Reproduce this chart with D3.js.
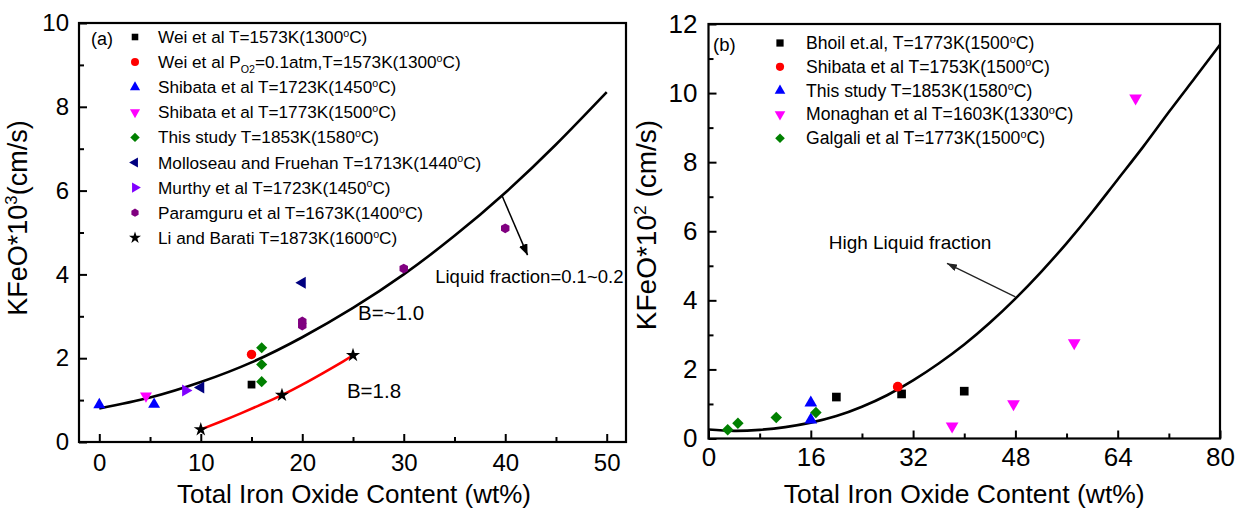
<!DOCTYPE html>
<html>
<head>
<meta charset="utf-8">
<script src="https://cdn.jsdelivr.net/npm/d3@7"></script>
<style>
  body { margin: 0; background: #fff; }
  text { font-family: "Liberation Sans", Arial, sans-serif; }
</style>
</head>
<body>
<svg id="chart" width="1243" height="510"></svg>
<script>
// ---- panel (a) data ----
const aTicksX = [0, 10, 20, 30, 40, 50];
const aMinorX = [5, 15, 25, 35, 45];
const aTicksY = [0, 2, 4, 6, 8, 10];
const aMinorY = [1, 3, 5, 7, 9];

const weiPts = [[15, 1.37]];
const weiPO2Pts = [[15, 2.09]];
const shibata1723Pts = [[0, 0.89], [5.4, 0.9]];
const shibata1773Pts = [[4.6, 1.1]];
const thisStudyAPts = [[16, 2.25], [16, 1.85], [16, 1.44]];
const molloseauPts = [[10, 1.3], [20, 3.8]];
const murthyPts = [[8.5, 1.23]];
const paramguruPts = [[20, 2.78], [20, 2.88], [30, 4.14], [40, 5.1]];
const liBaratiPts = [[10, 0.3], [18, 1.12], [25, 2.07]];

// black fit line (B=~1.0)
const fitAX = [0, 5, 10, 15, 20, 25, 30, 35, 40, 45, 50];
const fitAY = [0.8, 1.06, 1.43, 1.9, 2.5, 3.2, 4.0, 4.92, 5.95, 7.1, 8.35];
// red fit line (B=1.8)
const fitRedX = [10, 12, 14, 16, 18, 20, 22, 24, 25];
const fitRedY = [0.3, 0.49, 0.69, 0.9, 1.12, 1.37, 1.64, 1.92, 2.07];

const legendALabels = [
  "Wei et al T=1573K(1300^{o}C)",
  "Wei et al P_{O2}=0.1atm,T=1573K(1300^{o}C)",
  "Shibata et al T=1723K(1450^{o}C)",
  "Shibata et al T=1773K(1500^{o}C)",
  "This study T=1853K(1580^{o}C)",
  "Molloseau and Fruehan T=1713K(1440^{o}C)",
  "Murthy et al T=1723K(1450^{o}C)",
  "Paramguru et al T=1673K(1400^{o}C)",
  "Li and Barati T=1873K(1600^{o}C)"
];

// ---- panel (b) data ----
const bTicksX = [0, 16, 32, 48, 64, 80];
const bMinorX = [8, 24, 40, 56, 72];
const bTicksY = [0, 2, 4, 6, 8, 10, 12];
const bMinorY = [1, 3, 5, 7, 9, 11];

const bhoilPts = [[20, 1.2], [30.2, 1.29], [40, 1.37]];
const shibata1753Pts = [[29.6, 1.5]];
const thisStudyBPts = [[16, 1.03], [16, 0.54]];
const monaghanPts = [[38.1, 0.36], [47.7, 1.0], [57.2, 2.77], [66.8, 9.85]];
const galgaliPts = [[3.0, 0.25], [4.6, 0.44], [10.6, 0.61], [16.8, 0.75]];

const fitBX = [0, 4, 8, 12, 16, 20, 24, 28, 32, 36, 40, 44, 48, 52, 56, 60, 64, 68, 72, 76, 80];
const fitBY = [0.26, 0.22, 0.25, 0.33, 0.46, 0.65, 0.92, 1.26, 1.68, 2.17, 2.72, 3.35, 4.05, 4.82, 5.65, 6.55, 7.5, 8.45, 9.45, 10.42, 11.4];

const legendBLabels = [
  "Bhoil et.al, T=1773K(1500^{o}C)",
  "Shibata et al T=1753K(1500^{o}C)",
  "This study T=1853K(1580^{o}C)",
  "Monaghan et al T=1603K(1330^{o}C)",
  "Galgali et al T=1773K(1500^{o}C)"
];

// ---- setup ----
const svg = d3.select("#chart");

const xA = d3.scaleLinear().domain([-2, 51.9]).range([79, 626]);
const yA = d3.scaleLinear().domain([0, 10]).range([442, 23]);
const xB = d3.scaleLinear().domain([0, 80]).range([708.5, 1220]);
const yB = d3.scaleLinear().domain([0, 12]).range([438.5, 24]);

// custom symbols
const symbolHex = {
  draw(ctx, size) {
    const r = Math.sqrt(size / (1.5 * Math.sqrt(3)));
    for (let i = 0; i < 6; i++) {
      const a = Math.PI / 3 * i;
      const px = r * Math.cos(a), py = r * Math.sin(a);
      if (i === 0) ctx.moveTo(px, py); else ctx.lineTo(px, py);
    }
    ctx.closePath();
  }
};
const shapes = {
  square: { type: d3.symbolSquare, rot: 0 },
  circle: { type: d3.symbolCircle, rot: 0 },
  triUp: { type: d3.symbolTriangle, rot: 0 },
  triDown: { type: d3.symbolTriangle, rot: 180 },
  triLeft: { type: d3.symbolTriangle, rot: -90 },
  triRight: { type: d3.symbolTriangle, rot: 90 },
  diamond: { type: d3.symbolSquare, rot: 45 },
  hex: { type: symbolHex, rot: 90 },
  star: { type: d3.symbolStar, rot: 0 }
};

const seriesA = [
  { pts: weiPts, shape: "square", color: "#000000", size: 60 },
  { pts: weiPO2Pts, shape: "circle", color: "#ff0000", size: 70 },
  { pts: shibata1723Pts, shape: "triUp", color: "#0000ff", size: 62 },
  { pts: shibata1773Pts, shape: "triDown", color: "#ff00ff", size: 62 },
  { pts: thisStudyAPts, shape: "diamond", color: "#008000", size: 62 },
  { pts: molloseauPts, shape: "triLeft", color: "#000080", size: 62 },
  { pts: murthyPts, shape: "triRight", color: "#8000ff", size: 62 },
  { pts: paramguruPts, shape: "hex", color: "#800080", size: 62 },
  { pts: liBaratiPts, shape: "star", color: "#000000", size: 62 }
];
const seriesB = [
  { pts: bhoilPts, shape: "square", color: "#000000", size: 75 },
  { pts: shibata1753Pts, shape: "circle", color: "#ff0000", size: 75 },
  { pts: thisStudyBPts, shape: "triUp", color: "#0000ff", size: 70 },
  { pts: monaghanPts, shape: "triDown", color: "#ff00ff", size: 70 },
  { pts: galgaliPts, shape: "diamond", color: "#008000", size: 66 }
];

function symPath(shape, size) {
  return d3.symbol().type(shapes[shape].type).size(size)();
}

// rich text: ^{..} superscript, _{..} subscript
function rich(sel, str, fs) {
  const parts = str.split(/(\^\{[^}]*\}|_\{[^}]*\})/).filter(s => s.length);
  let shift = 0;
  parts.forEach(p => {
    let dy = 0, size = fs, t = p;
    if (p.startsWith("^{")) { t = p.slice(2, -1); size = fs * 0.62; dy = -fs * 0.36; }
    else if (p.startsWith("_{")) { t = p.slice(2, -1); size = fs * 0.62; dy = fs * 0.28; }
    sel.append("tspan").attr("font-size", size).attr("dy", dy - shift).text(t);
    shift = dy;
  });
}

svg.append("defs").selectAll("marker")
  .data([{ id: "arrA", w: 11, h: 9, c: "#000" }, { id: "arrB", w: 10, h: 7, c: "#222" }])
  .enter().append("marker")
  .attr("id", d => d.id)
  .attr("viewBox", d => `0 0 ${d.w} ${d.h}`)
  .attr("refX", d => d.w).attr("refY", d => d.h / 2)
  .attr("markerWidth", d => d.w).attr("markerHeight", d => d.h)
  .attr("markerUnits", "userSpaceOnUse")
  .attr("orient", "auto")
  .append("path")
  .attr("d", d => `M0,0L${d.w},${d.h / 2}L0,${d.h}z`)
  .attr("fill", d => d.c);

function drawPanel(opt) {
  const { x, y, g } = opt;
  const [x0, x1] = x.range(), [y0, y1] = y.range();

  // major + minor ticks, inward
  const bottom = g.append("g").attr("transform", `translate(0,${y0})`)
    .call(d3.axisBottom(x).tickValues(opt.ticksX).tickSize(-8).tickSizeOuter(0).tickPadding(opt.padX).tickFormat(d3.format("d")));
  bottom.append("g").call(d3.axisBottom(x).tickValues(opt.minorX).tickSize(-5).tickSizeOuter(0).tickFormat(""));
  const left = g.append("g").attr("transform", `translate(${x0},0)`)
    .call(d3.axisLeft(y).tickValues(opt.ticksY).tickSize(-8).tickSizeOuter(0).tickPadding(opt.padY).tickFormat(d3.format("d")));
  left.append("g").call(d3.axisLeft(y).tickValues(opt.minorY).tickSize(-5).tickSizeOuter(0).tickFormat(""));

  [bottom, left].forEach(a => {
    a.selectAll(".domain").remove();
    a.selectAll("line").attr("stroke", "#000").attr("stroke-width", 2);
    a.selectAll("text").attr("font-size", opt.tickFont).attr("fill", "#000")
      .attr("font-family", "'Liberation Sans', Arial, sans-serif");
  });

  // frame
  g.append("rect").attr("x", x0).attr("y", y1).attr("width", x1 - x0).attr("height", y0 - y1)
    .attr("fill", "none").attr("stroke", "#000").attr("stroke-width", 2.2);

  // axis titles
  g.append("text").attr("x", (x0 + x1) / 2 + opt.titleXShift).attr("y", opt.titleXBase)
    .attr("text-anchor", "middle").attr("font-size", opt.titleFont).attr("fill", "#000")
    .text("Total Iron Oxide Content (wt%)");
  const yt = g.append("text")
    .attr("transform", `translate(${opt.yTitlePos[0]},${opt.yTitlePos[1]}) rotate(-90)`)
    .attr("text-anchor", "middle").attr("dy", "0.35em").attr("font-size", opt.yTitleFont).attr("fill", "#000");
  rich(yt, opt.yTitle, opt.yTitleFont);
}

// ---- panel (a) ----
const gA = svg.append("g");
drawPanel({
  g: gA, x: xA, y: yA, ticksX: aTicksX, minorX: aMinorX, ticksY: aTicksY, minorY: aMinorY,
  padX: 12, padY: 10, tickFont: 24, titleFont: 26, titleXShift: 1.5, titleXBase: 503,
  yTitle: "KFeO*10^{3}(cm/s)", yTitleFont: 27, yTitlePos: [27, 218]
});

const line = d3.line().curve(d3.curveNatural);
gA.append("path")
  .attr("d", line(fitAX.map((v, i) => [xA(v), yA(fitAY[i])])))
  .attr("fill", "none").attr("stroke", "#000").attr("stroke-width", 2.6);
gA.append("path")
  .attr("d", line(fitRedX.map((v, i) => [xA(v), yA(fitRedY[i])])))
  .attr("fill", "none").attr("stroke", "#ff0000").attr("stroke-width", 2.6);

seriesA.forEach(s => {
  gA.selectAll(null).data(s.pts).enter().append("path")
    .attr("d", symPath(s.shape, s.size))
    .attr("transform", d => `translate(${xA(d[0])},${yA(d[1])}) rotate(${shapes[s.shape].rot})`)
    .attr("fill", s.color);
});

// arrow + annotations (a)
gA.append("line")
  .attr("x1", xA(39.7)).attr("y1", yA(5.87)).attr("x2", xA(42.2)).attr("y2", yA(4.46))
  .attr("stroke", "#000").attr("stroke-width", 1.5).attr("marker-end", "url(#arrA)");
gA.append("text").attr("x", xA(33.1)).attr("y", yA(3.95) + 6.5).attr("font-size", 18.5).text("Liquid fraction=0.1~0.2");
gA.append("text").attr("x", xA(25.5)).attr("y", yA(3.08) + 7).attr("font-size", 20.5).text("B=~1.0");
gA.append("text").attr("x", xA(24.4)).attr("y", yA(1.22) + 7).attr("font-size", 20.5).text("B=1.8");
gA.append("text").attr("x", 91).attr("y", 45).attr("font-size", 18).text("(a)");

// legend (a)
const legA = gA.append("g");
seriesA.forEach((s, i) => {
  const cy = 37 + 25.1 * i;
  legA.append("path").attr("d", symPath(s.shape, s.size * 0.72))
    .attr("transform", `translate(135,${cy}) rotate(${shapes[s.shape].rot})`).attr("fill", s.color);
  const t = legA.append("text").attr("x", 158).attr("y", cy + 6).attr("font-size", 17.2).attr("fill", "#000");
  rich(t, legendALabels[i], 17.2);
});

// ---- panel (b) ----
const gB = svg.append("g");
drawPanel({
  g: gB, x: xB, y: yB, ticksX: bTicksX, minorX: bMinorX, ticksY: bTicksY, minorY: bMinorY,
  padX: 9, padY: 11, tickFont: 26, titleFont: 26.5, titleXShift: 0, titleXBase: 503,
  yTitle: "KFeO*10^{2} (cm/s)", yTitleFont: 28, yTitlePos: [656, 225]
});

gB.append("path")
  .attr("d", line(fitBX.map((v, i) => [xB(v), yB(fitBY[i])])))
  .attr("fill", "none").attr("stroke", "#000").attr("stroke-width", 2.6);

seriesB.forEach(s => {
  gB.selectAll(null).data(s.pts).enter().append("path")
    .attr("d", symPath(s.shape, s.size))
    .attr("transform", d => `translate(${xB(d[0])},${yB(d[1])}) rotate(${shapes[s.shape].rot})`)
    .attr("fill", s.color);
});

gB.append("line")
  .attr("x1", xB(48.0)).attr("y1", yB(4.1)).attr("x2", xB(37.3)).attr("y2", yB(5.07))
  .attr("stroke", "#222").attr("stroke-width", 1.2).attr("marker-end", "url(#arrB)");
gB.append("text").attr("x", xB(18.8)).attr("y", yB(5.69) + 6.7).attr("font-size", 19).text("High Liquid fraction");
gB.append("text").attr("x", 713).attr("y", 51).attr("font-size", 18.5).text("(b)");

const legB = gB.append("g");
seriesB.forEach((s, i) => {
  const cy = 43 + 23.8 * i;
  legB.append("path").attr("d", symPath(s.shape, s.size * 0.7))
    .attr("transform", `translate(780,${cy}) rotate(${shapes[s.shape].rot})`).attr("fill", s.color);
  const t = legB.append("text").attr("x", 806).attr("y", cy + 6).attr("font-size", 17.6).attr("fill", "#000");
  rich(t, legendBLabels[i], 17.6);
});
</script>
</body>
</html>
